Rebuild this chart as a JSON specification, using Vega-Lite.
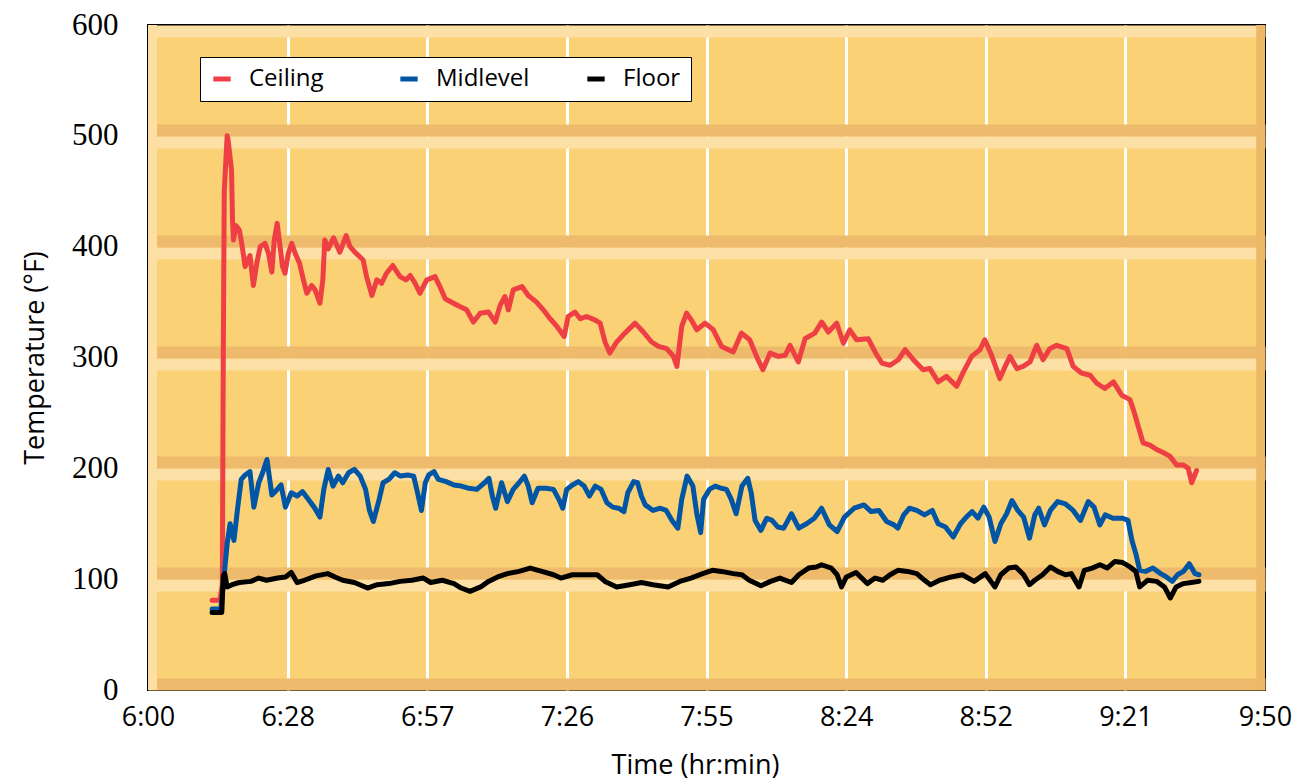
{
  "$schema": "https://vega.github.io/schema/vega-lite/v6.json",
  "width": 1117,
  "height": 665,
  "autosize": {"type": "none"},
  "padding": {"left": 148, "top": 25, "right": 32, "bottom": 93},
  "background": "#FFFFFF",
  "config": {
    "font": "Open Sans",
    "view": {"stroke": "#000000", "strokeWidth": 2, "fill": "#FBD176"},
    "axis": {"domain": false, "ticks": false}
  },
  "resolve": {"axis": {"y": "independent"}},
  "data": {"values": [
    {"series":"Ceiling","time":13.2,"temp":81},{"series":"Ceiling","time":14.8,"temp":81},{"series":"Ceiling","time":15.3,"temp":95},{"series":"Ceiling","time":15.5,"temp":300},{"series":"Ceiling","time":15.7,"temp":450},{"series":"Ceiling","time":16.3,"temp":500},{"series":"Ceiling","time":16.5,"temp":496},{"series":"Ceiling","time":17.2,"temp":469},{"series":"Ceiling","time":17.4,"temp":424},{"series":"Ceiling","time":17.6,"temp":406},{"series":"Ceiling","time":18.1,"temp":419},{"series":"Ceiling","time":18.8,"temp":415},{"series":"Ceiling","time":19.3,"temp":403},{"series":"Ceiling","time":20.0,"temp":382},{"series":"Ceiling","time":21.0,"temp":392},{"series":"Ceiling","time":21.7,"temp":365},{"series":"Ceiling","time":22.4,"temp":385},{"series":"Ceiling","time":23.1,"temp":400},{"series":"Ceiling","time":24.1,"temp":403},{"series":"Ceiling","time":24.8,"temp":394},{"series":"Ceiling","time":25.5,"temp":377},{"series":"Ceiling","time":26.0,"temp":406},{"series":"Ceiling","time":26.6,"temp":421},{"series":"Ceiling","time":27.2,"temp":400},{"series":"Ceiling","time":27.7,"temp":382},{"series":"Ceiling","time":28.2,"temp":376},{"series":"Ceiling","time":28.9,"temp":394},{"series":"Ceiling","time":29.6,"temp":403},{"series":"Ceiling","time":30.3,"temp":394},{"series":"Ceiling","time":31.2,"temp":385},{"series":"Ceiling","time":32.0,"temp":370},{"series":"Ceiling","time":32.7,"temp":358},{"series":"Ceiling","time":33.7,"temp":365},{"series":"Ceiling","time":34.4,"temp":361},{"series":"Ceiling","time":35.4,"temp":349},{"series":"Ceiling","time":36.0,"temp":370},{"series":"Ceiling","time":36.4,"temp":406},{"series":"Ceiling","time":37.1,"temp":398},{"series":"Ceiling","time":38.2,"temp":408},{"series":"Ceiling","time":39.5,"temp":395},{"series":"Ceiling","time":40.8,"temp":410},{"series":"Ceiling","time":41.6,"temp":400},{"series":"Ceiling","time":42.6,"temp":395},{"series":"Ceiling","time":44.3,"temp":388},{"series":"Ceiling","time":45.0,"temp":373},{"series":"Ceiling","time":46.1,"temp":356},{"series":"Ceiling","time":47.1,"temp":370},{"series":"Ceiling","time":48.1,"temp":367},{"series":"Ceiling","time":49.1,"temp":376},{"series":"Ceiling","time":50.4,"temp":383},{"series":"Ceiling","time":51.9,"temp":373},{"series":"Ceiling","time":53.1,"temp":370},{"series":"Ceiling","time":54.0,"temp":374},{"series":"Ceiling","time":55.0,"temp":367},{"series":"Ceiling","time":56.0,"temp":358},{"series":"Ceiling","time":57.4,"temp":370},{"series":"Ceiling","time":59.1,"temp":373},{"series":"Ceiling","time":60.1,"temp":364},{"series":"Ceiling","time":61.2,"temp":353},{"series":"Ceiling","time":62.9,"temp":349},{"series":"Ceiling","time":64.2,"temp":346},{"series":"Ceiling","time":65.6,"temp":343},{"series":"Ceiling","time":67.0,"temp":332},{"series":"Ceiling","time":68.4,"temp":340},{"series":"Ceiling","time":70.1,"temp":341},{"series":"Ceiling","time":71.5,"temp":332},{"series":"Ceiling","time":72.5,"temp":347},{"series":"Ceiling","time":73.5,"temp":355},{"series":"Ceiling","time":74.2,"temp":343},{"series":"Ceiling","time":75.2,"temp":361},{"series":"Ceiling","time":77.0,"temp":364},{"series":"Ceiling","time":78.3,"temp":356},{"series":"Ceiling","time":80.0,"temp":350},{"series":"Ceiling","time":81.4,"temp":343},{"series":"Ceiling","time":82.8,"temp":335},{"series":"Ceiling","time":84.2,"temp":328},{"series":"Ceiling","time":85.7,"temp":319},{"series":"Ceiling","time":86.5,"temp":337},{"series":"Ceiling","time":87.9,"temp":341},{"series":"Ceiling","time":89.0,"temp":335},{"series":"Ceiling","time":90.3,"temp":337},{"series":"Ceiling","time":92.0,"temp":334},{"series":"Ceiling","time":93.1,"temp":331},{"series":"Ceiling","time":94.1,"temp":314},{"series":"Ceiling","time":95.1,"temp":304},{"series":"Ceiling","time":96.5,"temp":314},{"series":"Ceiling","time":98.2,"temp":322},{"series":"Ceiling","time":100.3,"temp":331},{"series":"Ceiling","time":102.0,"temp":323},{"series":"Ceiling","time":103.7,"temp":314},{"series":"Ceiling","time":105.1,"temp":310},{"series":"Ceiling","time":106.8,"temp":308},{"series":"Ceiling","time":108.2,"temp":301},{"series":"Ceiling","time":108.9,"temp":292},{"series":"Ceiling","time":109.9,"temp":328},{"series":"Ceiling","time":110.9,"temp":340},{"series":"Ceiling","time":112.0,"temp":333},{"series":"Ceiling","time":113.0,"temp":325},{"series":"Ceiling","time":114.7,"temp":331},{"series":"Ceiling","time":116.4,"temp":325},{"series":"Ceiling","time":118.1,"temp":310},{"series":"Ceiling","time":120.5,"temp":305},{"series":"Ceiling","time":122.2,"temp":322},{"series":"Ceiling","time":123.9,"temp":316},{"series":"Ceiling","time":125.3,"temp":301},{"series":"Ceiling","time":126.6,"temp":289},{"series":"Ceiling","time":128.1,"temp":304},{"series":"Ceiling","time":129.8,"temp":301},{"series":"Ceiling","time":131.2,"temp":302},{"series":"Ceiling","time":132.2,"temp":311},{"series":"Ceiling","time":133.9,"temp":296},{"series":"Ceiling","time":135.3,"temp":317},{"series":"Ceiling","time":137.3,"temp":322},{"series":"Ceiling","time":138.7,"temp":332},{"series":"Ceiling","time":140.1,"temp":323},{"series":"Ceiling","time":141.8,"temp":331},{"series":"Ceiling","time":143.2,"temp":313},{"series":"Ceiling","time":144.5,"temp":325},{"series":"Ceiling","time":145.9,"temp":316},{"series":"Ceiling","time":148.3,"temp":317},{"series":"Ceiling","time":149.7,"temp":305},{"series":"Ceiling","time":151.1,"temp":295},{"series":"Ceiling","time":152.8,"temp":293},{"series":"Ceiling","time":154.5,"temp":298},{"series":"Ceiling","time":155.9,"temp":307},{"series":"Ceiling","time":157.6,"temp":298},{"series":"Ceiling","time":159.6,"temp":289},{"series":"Ceiling","time":161.0,"temp":290},{"series":"Ceiling","time":162.7,"temp":278},{"series":"Ceiling","time":164.4,"temp":283},{"series":"Ceiling","time":166.5,"temp":274},{"series":"Ceiling","time":167.9,"temp":287},{"series":"Ceiling","time":169.6,"temp":301},{"series":"Ceiling","time":171.3,"temp":307},{"series":"Ceiling","time":172.3,"temp":316},{"series":"Ceiling","time":173.7,"temp":302},{"series":"Ceiling","time":175.4,"temp":281},{"series":"Ceiling","time":176.5,"temp":292},{"series":"Ceiling","time":177.5,"temp":301},{"series":"Ceiling","time":178.9,"temp":290},{"series":"Ceiling","time":180.2,"temp":292},{"series":"Ceiling","time":181.6,"temp":296},{"series":"Ceiling","time":183.0,"temp":311},{"series":"Ceiling","time":184.3,"temp":298},{"series":"Ceiling","time":185.7,"temp":308},{"series":"Ceiling","time":187.1,"temp":311},{"series":"Ceiling","time":189.2,"temp":308},{"series":"Ceiling","time":190.5,"temp":292},{"series":"Ceiling","time":192.2,"temp":286},{"series":"Ceiling","time":194.0,"temp":284},{"series":"Ceiling","time":195.3,"temp":277},{"series":"Ceiling","time":197.0,"temp":272},{"series":"Ceiling","time":198.8,"temp":278},{"series":"Ceiling","time":200.5,"temp":266},{"series":"Ceiling","time":202.2,"temp":262},{"series":"Ceiling","time":202.9,"temp":253},{"series":"Ceiling","time":203.9,"temp":238},{"series":"Ceiling","time":204.9,"temp":223},{"series":"Ceiling","time":206.3,"temp":221},{"series":"Ceiling","time":207.7,"temp":217},{"series":"Ceiling","time":209.1,"temp":214},{"series":"Ceiling","time":210.4,"temp":211},{"series":"Ceiling","time":211.8,"temp":203},{"series":"Ceiling","time":213.2,"temp":203},{"series":"Ceiling","time":214.2,"temp":200},{"series":"Ceiling","time":214.9,"temp":187},{"series":"Ceiling","time":215.9,"temp":198},
    {"series":"Midlevel","time":13.2,"temp":73},{"series":"Midlevel","time":15.0,"temp":73},{"series":"Midlevel","time":15.6,"temp":100},{"series":"Midlevel","time":16.3,"temp":132},{"series":"Midlevel","time":16.9,"temp":150},{"series":"Midlevel","time":17.7,"temp":135},{"series":"Midlevel","time":18.4,"temp":162},{"series":"Midlevel","time":19.2,"temp":190},{"series":"Midlevel","time":20.0,"temp":194},{"series":"Midlevel","time":21.0,"temp":197},{"series":"Midlevel","time":21.8,"temp":165},{"series":"Midlevel","time":22.8,"temp":187},{"series":"Midlevel","time":23.6,"temp":196},{"series":"Midlevel","time":24.5,"temp":208},{"series":"Midlevel","time":25.5,"temp":176},{"series":"Midlevel","time":26.6,"temp":181},{"series":"Midlevel","time":27.4,"temp":185},{"series":"Midlevel","time":28.3,"temp":165},{"series":"Midlevel","time":29.5,"temp":178},{"series":"Midlevel","time":30.7,"temp":175},{"series":"Midlevel","time":31.8,"temp":179},{"series":"Midlevel","time":33.0,"temp":172},{"series":"Midlevel","time":34.2,"temp":165},{"series":"Midlevel","time":35.4,"temp":156},{"series":"Midlevel","time":36.2,"temp":181},{"series":"Midlevel","time":37.1,"temp":199},{"series":"Midlevel","time":38.1,"temp":184},{"series":"Midlevel","time":39.2,"temp":193},{"series":"Midlevel","time":40.1,"temp":187},{"series":"Midlevel","time":41.3,"temp":196},{"series":"Midlevel","time":42.5,"temp":199},{"series":"Midlevel","time":43.7,"temp":193},{"series":"Midlevel","time":44.8,"temp":181},{"series":"Midlevel","time":45.6,"temp":162},{"series":"Midlevel","time":46.4,"temp":152},{"series":"Midlevel","time":47.6,"temp":172},{"series":"Midlevel","time":48.4,"temp":187},{"series":"Midlevel","time":49.6,"temp":190},{"series":"Midlevel","time":50.8,"temp":196},{"series":"Midlevel","time":52.0,"temp":193},{"series":"Midlevel","time":53.5,"temp":194},{"series":"Midlevel","time":54.7,"temp":193},{"series":"Midlevel","time":55.5,"temp":178},{"series":"Midlevel","time":56.3,"temp":162},{"series":"Midlevel","time":57.1,"temp":187},{"series":"Midlevel","time":57.8,"temp":194},{"series":"Midlevel","time":58.9,"temp":197},{"series":"Midlevel","time":59.8,"temp":190},{"series":"Midlevel","time":61.4,"temp":188},{"series":"Midlevel","time":63.0,"temp":185},{"series":"Midlevel","time":64.5,"temp":184},{"series":"Midlevel","time":66.1,"temp":182},{"series":"Midlevel","time":67.7,"temp":181},{"series":"Midlevel","time":69.3,"temp":187},{"series":"Midlevel","time":70.2,"temp":191},{"series":"Midlevel","time":70.9,"temp":175},{"series":"Midlevel","time":71.6,"temp":164},{"series":"Midlevel","time":72.8,"temp":187},{"series":"Midlevel","time":74.0,"temp":170},{"series":"Midlevel","time":75.2,"temp":181},{"series":"Midlevel","time":76.4,"temp":187},{"series":"Midlevel","time":77.5,"temp":193},{"series":"Midlevel","time":78.3,"temp":184},{"series":"Midlevel","time":79.1,"temp":169},{"series":"Midlevel","time":80.3,"temp":182},{"series":"Midlevel","time":81.9,"temp":182},{"series":"Midlevel","time":83.5,"temp":181},{"series":"Midlevel","time":84.6,"temp":172},{"series":"Midlevel","time":85.4,"temp":164},{"series":"Midlevel","time":86.2,"temp":181},{"series":"Midlevel","time":87.4,"temp":185},{"series":"Midlevel","time":88.6,"temp":188},{"series":"Midlevel","time":89.8,"temp":184},{"series":"Midlevel","time":90.9,"temp":175},{"series":"Midlevel","time":92.1,"temp":184},{"series":"Midlevel","time":93.3,"temp":181},{"series":"Midlevel","time":94.5,"temp":169},{"series":"Midlevel","time":95.7,"temp":165},{"series":"Midlevel","time":96.9,"temp":164},{"series":"Midlevel","time":98.0,"temp":161},{"series":"Midlevel","time":98.8,"temp":178},{"series":"Midlevel","time":100.0,"temp":188},{"series":"Midlevel","time":100.8,"temp":187},{"series":"Midlevel","time":101.6,"temp":175},{"series":"Midlevel","time":102.4,"temp":167},{"series":"Midlevel","time":104.0,"temp":162},{"series":"Midlevel","time":105.5,"temp":164},{"series":"Midlevel","time":106.7,"temp":162},{"series":"Midlevel","time":107.9,"temp":153},{"series":"Midlevel","time":109.1,"temp":146},{"series":"Midlevel","time":109.9,"temp":172},{"series":"Midlevel","time":111.0,"temp":193},{"series":"Midlevel","time":112.2,"temp":184},{"series":"Midlevel","time":113.0,"temp":159},{"series":"Midlevel","time":113.8,"temp":142},{"series":"Midlevel","time":114.4,"temp":172},{"series":"Midlevel","time":115.6,"temp":181},{"series":"Midlevel","time":116.8,"temp":184},{"series":"Midlevel","time":118.0,"temp":182},{"series":"Midlevel","time":119.1,"temp":181},{"series":"Midlevel","time":120.1,"temp":172},{"series":"Midlevel","time":121.1,"temp":159},{"series":"Midlevel","time":122.3,"temp":184},{"series":"Midlevel","time":123.5,"temp":191},{"series":"Midlevel","time":124.2,"temp":178},{"series":"Midlevel","time":125.0,"temp":153},{"series":"Midlevel","time":126.2,"temp":144},{"series":"Midlevel","time":127.4,"temp":155},{"series":"Midlevel","time":128.5,"temp":153},{"series":"Midlevel","time":129.7,"temp":147},{"series":"Midlevel","time":130.9,"temp":146},{"series":"Midlevel","time":132.5,"temp":159},{"series":"Midlevel","time":134.0,"temp":146},{"series":"Midlevel","time":135.6,"temp":150},{"series":"Midlevel","time":137.2,"temp":155},{"series":"Midlevel","time":138.7,"temp":164},{"series":"Midlevel","time":140.3,"temp":149},{"series":"Midlevel","time":141.9,"temp":143},{"series":"Midlevel","time":143.4,"temp":156},{"series":"Midlevel","time":145.4,"temp":164},{"series":"Midlevel","time":147.4,"temp":167},{"series":"Midlevel","time":148.9,"temp":161},{"series":"Midlevel","time":150.5,"temp":162},{"series":"Midlevel","time":152.1,"temp":152},{"series":"Midlevel","time":153.6,"temp":149},{"series":"Midlevel","time":154.4,"temp":146},{"series":"Midlevel","time":155.6,"temp":158},{"series":"Midlevel","time":156.8,"temp":164},{"series":"Midlevel","time":158.3,"temp":162},{"series":"Midlevel","time":159.9,"temp":158},{"series":"Midlevel","time":161.5,"temp":162},{"series":"Midlevel","time":162.7,"temp":150},{"series":"Midlevel","time":164.2,"temp":147},{"series":"Midlevel","time":165.8,"temp":138},{"series":"Midlevel","time":167.3,"temp":150},{"series":"Midlevel","time":168.5,"temp":156},{"series":"Midlevel","time":169.7,"temp":161},{"series":"Midlevel","time":170.9,"temp":155},{"series":"Midlevel","time":172.1,"temp":165},{"series":"Midlevel","time":173.2,"temp":156},{"series":"Midlevel","time":174.4,"temp":134},{"series":"Midlevel","time":175.6,"temp":150},{"series":"Midlevel","time":176.8,"temp":159},{"series":"Midlevel","time":177.9,"temp":171},{"series":"Midlevel","time":179.1,"temp":162},{"series":"Midlevel","time":180.3,"temp":156},{"series":"Midlevel","time":181.5,"temp":137},{"series":"Midlevel","time":182.6,"temp":158},{"series":"Midlevel","time":183.4,"temp":164},{"series":"Midlevel","time":184.6,"temp":149},{"series":"Midlevel","time":185.8,"temp":162},{"series":"Midlevel","time":187.3,"temp":170},{"series":"Midlevel","time":188.9,"temp":168},{"series":"Midlevel","time":190.5,"temp":162},{"series":"Midlevel","time":192.0,"temp":153},{"series":"Midlevel","time":193.6,"temp":170},{"series":"Midlevel","time":194.8,"temp":165},{"series":"Midlevel","time":196.0,"temp":149},{"series":"Midlevel","time":197.1,"temp":158},{"series":"Midlevel","time":198.7,"temp":155},{"series":"Midlevel","time":200.7,"temp":155},{"series":"Midlevel","time":201.8,"temp":153},{"series":"Midlevel","time":202.6,"temp":135},{"series":"Midlevel","time":203.4,"temp":123},{"series":"Midlevel","time":204.2,"temp":108},{"series":"Midlevel","time":205.4,"temp":107},{"series":"Midlevel","time":206.9,"temp":110},{"series":"Midlevel","time":208.5,"temp":105},{"series":"Midlevel","time":209.7,"temp":102},{"series":"Midlevel","time":210.9,"temp":98},{"series":"Midlevel","time":212.0,"temp":104},{"series":"Midlevel","time":213.2,"temp":107},{"series":"Midlevel","time":214.4,"temp":114},{"series":"Midlevel","time":215.6,"temp":105},{"series":"Midlevel","time":216.4,"temp":104},
    {"series":"Floor","time":13.2,"temp":70},{"series":"Floor","time":15.2,"temp":70},{"series":"Floor","time":15.5,"temp":103},{"series":"Floor","time":15.8,"temp":105},{"series":"Floor","time":16.3,"temp":93},{"series":"Floor","time":17.3,"temp":95},{"series":"Floor","time":18.8,"temp":97},{"series":"Floor","time":21.2,"temp":98},{"series":"Floor","time":22.8,"temp":101},{"series":"Floor","time":24.4,"temp":99},{"series":"Floor","time":26.7,"temp":101},{"series":"Floor","time":28.3,"temp":102},{"series":"Floor","time":29.5,"temp":106},{"series":"Floor","time":30.7,"temp":97},{"series":"Floor","time":32.2,"temp":99},{"series":"Floor","time":34.6,"temp":103},{"series":"Floor","time":37.0,"temp":105},{"series":"Floor","time":38.5,"temp":102},{"series":"Floor","time":40.1,"temp":99},{"series":"Floor","time":42.5,"temp":97},{"series":"Floor","time":45.2,"temp":92},{"series":"Floor","time":47.2,"temp":95},{"series":"Floor","time":49.6,"temp":96},{"series":"Floor","time":51.9,"temp":98},{"series":"Floor","time":54.3,"temp":99},{"series":"Floor","time":56.7,"temp":101},{"series":"Floor","time":58.2,"temp":97},{"series":"Floor","time":60.6,"temp":99},{"series":"Floor","time":63.0,"temp":96},{"series":"Floor","time":64.5,"temp":92},{"series":"Floor","time":66.3,"temp":89},{"series":"Floor","time":68.5,"temp":93},{"series":"Floor","time":70.1,"temp":98},{"series":"Floor","time":72.0,"temp":102},{"series":"Floor","time":74.0,"temp":105},{"series":"Floor","time":76.4,"temp":107},{"series":"Floor","time":78.7,"temp":110},{"series":"Floor","time":81.1,"temp":107},{"series":"Floor","time":83.5,"temp":104},{"series":"Floor","time":85.0,"temp":101},{"series":"Floor","time":87.4,"temp":104},{"series":"Floor","time":89.8,"temp":104},{"series":"Floor","time":92.5,"temp":104},{"series":"Floor","time":94.1,"temp":98},{"series":"Floor","time":96.5,"temp":93},{"series":"Floor","time":99.2,"temp":95},{"series":"Floor","time":101.6,"temp":97},{"series":"Floor","time":104.0,"temp":95},{"series":"Floor","time":107.1,"temp":93},{"series":"Floor","time":109.5,"temp":98},{"series":"Floor","time":111.8,"temp":101},{"series":"Floor","time":114.2,"temp":105},{"series":"Floor","time":116.2,"temp":108},{"series":"Floor","time":118.1,"temp":107},{"series":"Floor","time":120.5,"temp":105},{"series":"Floor","time":122.3,"temp":104},{"series":"Floor","time":123.8,"temp":99},{"series":"Floor","time":126.2,"temp":94},{"series":"Floor","time":128.2,"temp":98},{"series":"Floor","time":130.1,"temp":101},{"series":"Floor","time":132.5,"temp":97},{"series":"Floor","time":134.0,"temp":104},{"series":"Floor","time":136.0,"temp":110},{"series":"Floor","time":137.6,"temp":111},{"series":"Floor","time":138.7,"temp":113},{"series":"Floor","time":140.7,"temp":110},{"series":"Floor","time":141.9,"temp":104},{"series":"Floor","time":142.8,"temp":93},{"series":"Floor","time":143.8,"temp":102},{"series":"Floor","time":145.8,"temp":106},{"series":"Floor","time":148.1,"temp":96},{"series":"Floor","time":149.7,"temp":101},{"series":"Floor","time":151.3,"temp":99},{"series":"Floor","time":152.8,"temp":104},{"series":"Floor","time":154.4,"temp":108},{"series":"Floor","time":156.4,"temp":107},{"series":"Floor","time":158.3,"temp":105},{"series":"Floor","time":159.9,"temp":99},{"series":"Floor","time":161.1,"temp":95},{"series":"Floor","time":163.0,"temp":99},{"series":"Floor","time":165.4,"temp":102},{"series":"Floor","time":167.7,"temp":104},{"series":"Floor","time":170.1,"temp":98},{"series":"Floor","time":172.4,"temp":105},{"series":"Floor","time":174.4,"temp":93},{"series":"Floor","time":175.6,"temp":104},{"series":"Floor","time":177.2,"temp":110},{"series":"Floor","time":178.7,"temp":111},{"series":"Floor","time":180.3,"temp":104},{"series":"Floor","time":181.5,"temp":95},{"series":"Floor","time":182.6,"temp":99},{"series":"Floor","time":184.2,"temp":104},{"series":"Floor","time":185.8,"temp":111},{"series":"Floor","time":187.3,"temp":107},{"series":"Floor","time":188.9,"temp":104},{"series":"Floor","time":190.1,"temp":105},{"series":"Floor","time":191.7,"temp":93},{"series":"Floor","time":192.8,"temp":108},{"series":"Floor","time":194.4,"temp":110},{"series":"Floor","time":196.0,"temp":113},{"series":"Floor","time":197.5,"temp":110},{"series":"Floor","time":199.1,"temp":116},{"series":"Floor","time":200.7,"temp":115},{"series":"Floor","time":202.2,"temp":111},{"series":"Floor","time":203.4,"temp":107},{"series":"Floor","time":204.2,"temp":93},{"series":"Floor","time":205.8,"temp":99},{"series":"Floor","time":207.7,"temp":98},{"series":"Floor","time":209.3,"temp":93},{"series":"Floor","time":210.5,"temp":83},{"series":"Floor","time":211.7,"temp":93},{"series":"Floor","time":213.2,"temp":96},{"series":"Floor","time":214.8,"temp":97},{"series":"Floor","time":216.4,"temp":98}
  ]},
  "layer": [
    {
      "data": {"values": [{}]},
      "mark": {"type": "rect", "color": "#FDDFA3"},
      "encoding": {
        "x": {"datum": 0, "type": "quantitative", "scale": {"domain": [0, 230], "nice": false, "zero": false},
          "axis": {"values": [0, 28.75, 57.5, 86.25, 115, 143.75, 172.5, 201.25, 230], "labelExpr": "['6:00','6:28','6:57','7:26','7:55','8:24','8:52','9:21','9:50'][round(datum.value/28.75)]", "title": "Time (hr:min)", "grid": true, "gridColor": "#FFFFFF", "gridWidth": 3, "gridOpacity": {"condition": {"test": "datum.value == 0 || datum.value == 230", "value": 0}, "value": 1}, "labelFont": "Open Sans", "labelFontSize": 27, "labelColor": "#000000", "labelPadding": 14, "labelFlush": false, "titleFont": "Open Sans", "titleFontSize": 27, "titleFontWeight": "normal", "titleColor": "#000000", "titlePadding": 22, "titleX": 547}},
        "x2": {"datum": 1.85}
      }
    },
    {
      "data": {"values": [{}]},
      "mark": {"type": "rect", "color": "#EEB967"},
      "encoding": {
        "x": {"datum": 228.2, "type": "quantitative", "scale": {"domain": [0, 230], "nice": false, "zero": false},
          "axis": {"values": [0, 28.75, 57.5, 86.25, 115, 143.75, 172.5, 201.25, 230], "labelExpr": "['6:00','6:28','6:57','7:26','7:55','8:24','8:52','9:21','9:50'][round(datum.value/28.75)]", "title": "Time (hr:min)", "grid": true, "gridColor": "#FFFFFF", "gridWidth": 3, "gridOpacity": {"condition": {"test": "datum.value == 0 || datum.value == 230", "value": 0}, "value": 1}, "labelFont": "Open Sans", "labelFontSize": 27, "labelColor": "#000000", "labelPadding": 14, "labelFlush": false, "titleFont": "Open Sans", "titleFontSize": 27, "titleFontWeight": "normal", "titleColor": "#000000", "titlePadding": 22, "titleX": 547}},
        "x2": {"datum": 230}
      }
    },
    {
      "mark": {"type": "point", "opacity": 0},
      "encoding": {
        "x": {"field": "time", "type": "quantitative", "scale": {"domain": [0, 230], "nice": false, "zero": false},
          "axis": {"values": [0, 28.75, 57.5, 86.25, 115, 143.75, 172.5, 201.25, 230], "labelExpr": "['6:00','6:28','6:57','7:26','7:55','8:24','8:52','9:21','9:50'][round(datum.value/28.75)]", "title": "Time (hr:min)", "grid": true, "gridColor": "#FFFFFF", "gridWidth": 3, "gridOpacity": {"condition": {"test": "datum.value == 0 || datum.value == 230", "value": 0}, "value": 1}, "labelFont": "Open Sans", "labelFontSize": 27, "labelColor": "#000000", "labelPadding": 14, "labelFlush": false, "titleFont": "Open Sans", "titleFontSize": 27, "titleFontWeight": "normal", "titleColor": "#000000", "titlePadding": 22, "titleX": 547}},
        "y": {"field": "temp", "type": "quantitative", "scale": {"domain": [0, 600], "nice": false},
          "axis": {"orient": "right", "values": [0, 100, 200, 300, 400, 500, 600], "title": null, "labels": false, "grid": true, "gridColor": "#FDE0A5", "gridWidth": 12, "tickOffset": 6, "gridOpacity": {"condition": {"test": "datum.value == 0", "value": 0}, "value": 1}}}
      }
    },
    {
      "mark": {"type": "line", "strokeWidth": 5, "strokeJoin": "round", "strokeCap": "round"},
      "encoding": {
        "x": {"field": "time", "type": "quantitative", "scale": {"domain": [0, 230], "nice": false, "zero": false},
          "axis": {"values": [0, 28.75, 57.5, 86.25, 115, 143.75, 172.5, 201.25, 230], "labelExpr": "['6:00','6:28','6:57','7:26','7:55','8:24','8:52','9:21','9:50'][round(datum.value/28.75)]", "title": "Time (hr:min)", "grid": true, "gridColor": "#FFFFFF", "gridWidth": 3, "gridOpacity": {"condition": {"test": "datum.value == 0 || datum.value == 230", "value": 0}, "value": 1}, "labelFont": "Open Sans", "labelFontSize": 27, "labelColor": "#000000", "labelPadding": 14, "labelFlush": false, "titleFont": "Open Sans", "titleFontSize": 27, "titleFontWeight": "normal", "titleColor": "#000000", "titlePadding": 22, "titleX": 547}},
        "y": {"field": "temp", "type": "quantitative", "scale": {"domain": [0, 600], "nice": false},
          "axis": {"orient": "left", "values": [0, 100, 200, 300, 400, 500, 600], "title": "Temperature (°F)", "grid": true, "gridColor": "#EEBA6B", "gridWidth": 12, "tickOffset": -6, "labelOffset": 6, "gridOpacity": {"condition": {"test": "datum.value == 600", "value": 0}, "value": 1}, "labelFont": "Liberation Serif", "labelFontSize": 31, "labelColor": "#000000", "labelPadding": 30, "titleFont": "Open Sans", "titleFontSize": 27, "titleFontWeight": "normal", "titleColor": "#000000", "titlePadding": 22}},
        "color": {"field": "series", "type": "nominal",
          "scale": {"domain": ["Ceiling", "Midlevel", "Floor"], "range": ["#EE3F45", "#0055A4", "#000000"]},
          "legend": {"orient": "none", "legendX": 52, "legendY": 32, "direction": "horizontal", "title": null, "fillColor": "#FFFFFF", "strokeColor": "#000000", "padding": 10, "symbolType": "stroke", "symbolStrokeWidth": 5, "symbolSize": 300, "labelFont": "Open Sans", "labelFontSize": 24, "labelColor": "#000000", "labelOffset": 15, "columnPadding": 47, "gridAlign": "all"}}
      }
    }
  ]
}
